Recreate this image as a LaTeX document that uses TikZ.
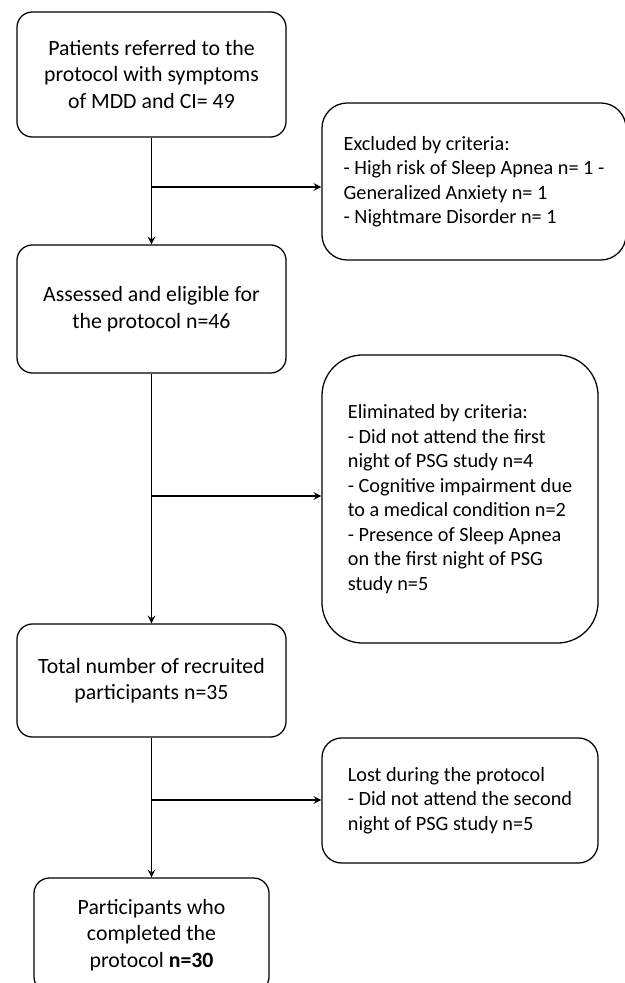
\documentclass[tikz,border=0pt]{standalone}
\usepackage{fontspec}
\setmainfont{Carlito}
\usetikzlibrary{positioning}
\begin{document}
\begin{tikzpicture}[x=0.025cm,y=-0.025cm,
    mainbox/.style={draw,line width=0.9pt,rounded corners=11pt,align=center,
      font=\fontsize{15.5}{18.8}\selectfont,minimum width=6.725cm,inner sep=0pt},
    sidebox/.style={draw,line width=0.9pt,align=left,
      font=\fontsize{14.4}{17.4}\selectfont,inner sep=0pt},
    flow/.style={line width=1.4pt,-stealth}]
  \useasboundingbox (0,0) rectangle (624,983);
  \node[mainbox,minimum height=3.125cm] at (151.5,74.5) (referred)
    {Patients referred to the\\protocol with symptoms\\of MDD and CI= 49};
  \node[sidebox,rounded corners=18pt,minimum width=7.6cm,minimum height=3.925cm] at (474,181.5) (excluded)
    {Excluded by criteria:\\- High risk of Sleep Apnea n= 1 -\\Generalized Anxiety n= 1\\- Nightmare Disorder n= 1};
  \node[mainbox,minimum height=3.2cm] at (151.5,309) (assessed)
    {Assessed and eligible for\\the protocol n=46};
  \node[sidebox,rounded corners=29pt,minimum width=6.9cm,minimum height=7.2cm] at (460,499) (eliminated)
    {Eliminated by criteria:\\- Did not attend the first\\night of PSG study n=4\\- Cognitive impairment due\\to a medical condition n=2\\- Presence of Sleep Apnea\\on the first night of PSG\\study n=5};
  \node[mainbox,minimum height=2.825cm] at (151.5,680.5) (recruited)
    {Total number of recruited\\participants n=35};
  \node[sidebox,rounded corners=14pt,minimum width=6.9cm,minimum height=3.125cm] at (460,800.5) (lost)
    {Lost during the protocol\\- Did not attend the second\\night of PSG study n=5};
  \node[mainbox,minimum width=5.875cm,minimum height=2.85cm] at (151.5,935) (completed)
    {Participants who\\completed the\\protocol \textbf{n=30}};
  % main flow
  \draw[flow] (referred) -- (assessed);
  \draw[flow] (assessed) -- (recruited);
  \draw[flow] (recruited) -- (completed);
  % branches
  \coordinate (b1) at (151.5,187);
  \coordinate (b2) at (151.5,496);
  \coordinate (b3) at (151.5,800);
  \draw[flow] (b1) -- (b1 -| excluded.west);
  \draw[flow] (b2) -- (b2 -| eliminated.west);
  \draw[flow] (b3) -- (b3 -| lost.west);
\end{tikzpicture}
\end{document}
